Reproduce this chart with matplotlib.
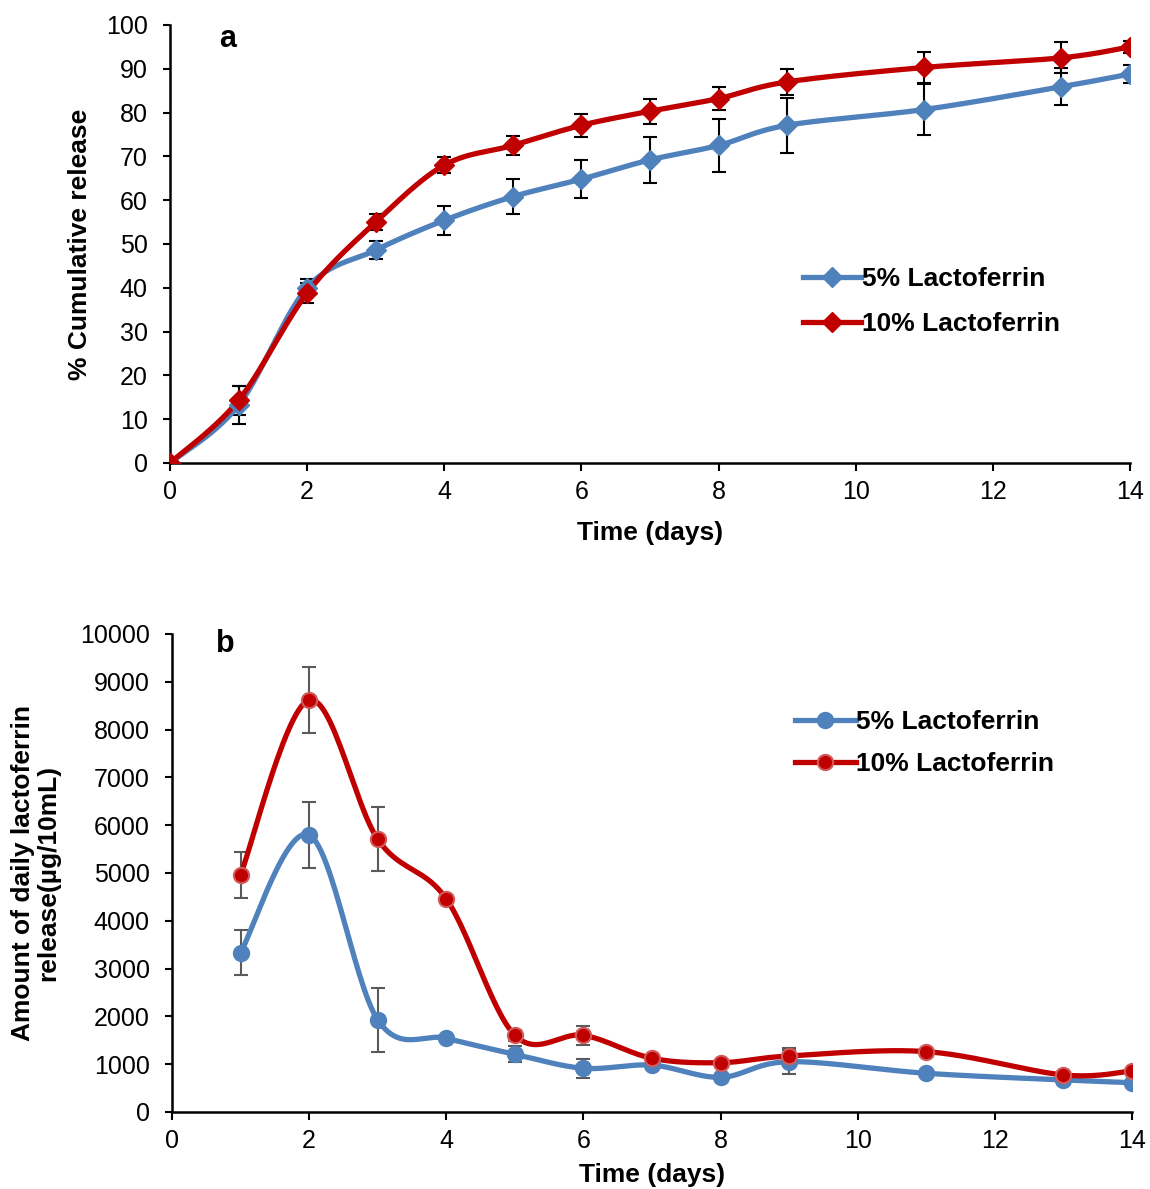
import numpy as np
import matplotlib
matplotlib.use('Agg')
import matplotlib.pyplot as plt

plt.rcParams['font.family'] = ['Liberation Sans', 'DejaVu Sans']

# panel a: cumulative release (%)
days_a = [0, 1, 2, 3, 4, 5, 6, 7, 8, 9, 11, 13, 14]
cum_5 = [0, 13.2, 40.0, 48.6, 55.4, 60.8, 64.8, 69.2, 72.5, 77.1, 80.7, 85.9, 88.8]
cum_5_err = [0, 4.4, 2.0, 2.1, 3.3, 4.0, 4.4, 5.3, 6.0, 6.3, 5.8, 4.2, 2.0]
cum_10 = [0, 14.3, 38.8, 55.0, 68.0, 72.5, 77.1, 80.3, 83.2, 87.0, 90.3, 92.5, 95.0]
cum_10_err = [0, 3.3, 2.2, 1.8, 1.9, 2.2, 2.6, 2.8, 2.7, 3.0, 3.5, 3.5, 1.4]

# panel b: daily release (ug/10mL)
days_b = [1, 2, 3, 4, 5, 6, 7, 8, 9, 11, 13, 14]
daily_5 = [3333, 5795, 1925, 1541, 1207, 914, 980, 725, 1052, 809, 669, 613]
daily_5_err = [470, 690, 670, 0, 170, 200, 0, 0, 250, 0, 0, 0]
daily_10 = [4965, 8619, 5705, 4456, 1604, 1604, 1123, 1031, 1171, 1262, 774, 858]
daily_10_err = [480, 700, 665, 0, 120, 200, 0, 0, 170, 0, 0, 0]

BLUE = '#4F81BD'
RED = '#C00000'


def smooth(x, y, n=30):
    # bezier smoothing like excel's "smoothed line"
    x = np.asarray(x, float)
    y = np.asarray(y, float)
    p = np.column_stack([x, y])
    out = []
    for i in range(len(p) - 1):
        p0 = p[i - 1] if i > 0 else p[i]
        p3 = p[i + 2] if i + 2 < len(p) else p[i + 1]
        c1 = p[i] + (p[i + 1] - p0) / 6
        c2 = p[i + 1] - (p3 - p[i]) / 6
        t = np.linspace(0, 1, n)[:, None]
        seg = ((1 - t) ** 3 * p[i] + 3 * (1 - t) ** 2 * t * c1
               + 3 * (1 - t) * t ** 2 * c2 + t ** 3 * p[i + 1])
        out.append(seg if i == 0 else seg[1:])
    out = np.vstack(out)
    return out[:, 0], out[:, 1]


def style_axes(ax):
    for s in ['top', 'right']:
        ax.spines[s].set_visible(False)
    for s in ['left', 'bottom']:
        ax.spines[s].set_linewidth(1.8)
    ax.tick_params(width=1.5, labelsize=18, direction='out')
    ax.tick_params(axis='y', length=5, pad=11)
    ax.tick_params(axis='x', length=6, pad=6)


fig = plt.figure(figsize=(11.5, 11.89), dpi=100)
LAB = dict(fontsize=19, fontweight='bold')

# ---- panel a
ax1 = fig.add_axes([0.1478, 0.6106, 0.8348, 0.3684])
for yv, ev, col, lab in [(cum_5, cum_5_err, BLUE, '5% Lactoferrin'),
                         (cum_10, cum_10_err, RED, '10% Lactoferrin')]:
    sx, sy = smooth(days_a, yv)
    ax1.plot(sx, sy, color=col, lw=3.8, zorder=3)
    ax1.errorbar(days_a, yv, yerr=ev, fmt='none', ecolor='black',
                 elinewidth=1.5, capsize=5, capthick=1.5, zorder=2)
    ax1.plot(days_a, yv, ls='none', marker='D', ms=10, color=col, zorder=4)
    ax1.plot([], [], color=col, lw=3.8, marker='D', ms=10, label=lab)
ax1.set_xlim(0, 14)
ax1.set_ylim(0, 100)
ax1.set_xticks(range(0, 15, 2))
ax1.set_yticks(range(0, 101, 10))
style_axes(ax1)
ax1.text(0.5, -0.16, 'Time (days)', transform=ax1.transAxes,
         ha='center', va='center', **LAB)
ax1.text(-0.094, 0.5, '% Cumulative release', transform=ax1.transAxes,
         ha='center', va='center', rotation=90, **LAB)
ax1.text(0.06, 0.968, 'a', transform=ax1.transAxes, fontsize=22,
         fontweight='bold', ha='center', va='center')
ax1.legend(loc='upper left', bbox_to_anchor=(0.659, 0.448), frameon=False,
           prop={'size': 19, 'weight': 'bold'}, handlelength=2.2,
           handletextpad=0.05, labelspacing=0.8, borderpad=0,
           borderaxespad=0)

# ---- panel b
ax2 = fig.add_axes([0.1496, 0.0648, 0.8348, 0.402])
for yv, ev, col, ecol, lab in [(daily_5, daily_5_err, BLUE, BLUE, '5% Lactoferrin'),
                               (daily_10, daily_10_err, RED, '#D25A5A', '10% Lactoferrin')]:
    sx, sy = smooth(days_b, yv)
    ax2.plot(sx, sy, color=col, lw=3.8, zorder=3)
    ax2.errorbar(days_b, yv, yerr=ev, fmt='none', ecolor='#5A5A5A',
                 elinewidth=1.5, capsize=5, capthick=1.5, zorder=2)
    ax2.plot(days_b, yv, ls='none', marker='o', ms=11, color=col, mec=ecol,
             mew=1.5, zorder=4)
    ax2.plot([], [], color=col, lw=3.8, marker='o', ms=11, mec=ecol, mew=1.5,
             label=lab)
ax2.set_xlim(0, 14)
ax2.set_ylim(0, 10000)
ax2.set_xticks(range(0, 15, 2))
ax2.set_yticks(range(0, 10001, 1000))
style_axes(ax2)
ax2.text(0.5, -0.132, 'Time (days)', transform=ax2.transAxes,
         ha='center', va='center', **LAB)
ax2.text(-0.142, 0.5, 'Amount of daily lactoferrin\nrelease(\u00b5g/10mL)',
         transform=ax2.transAxes, ha='center', va='center', rotation=90,
         linespacing=1.05, **LAB)
ax2.text(0.056, 0.979, 'b', transform=ax2.transAxes, fontsize=22,
         fontweight='bold', ha='center', va='center')
ax2.legend(loc='upper left', bbox_to_anchor=(0.649, 0.84), frameon=False,
           prop={'size': 19, 'weight': 'bold'}, handlelength=2.3,
           handletextpad=0.0, labelspacing=0.68, borderpad=0,
           borderaxespad=0)

fig.savefig('out.png', dpi=100)
